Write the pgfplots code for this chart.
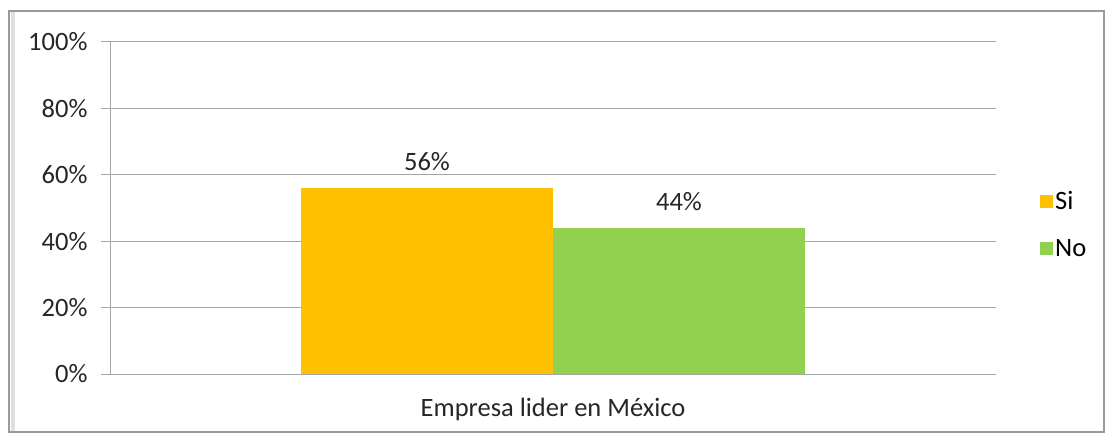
\documentclass[border=0pt]{standalone}
\usepackage{pgfplots}
\pgfplotsset{compat=1.18}
\usepackage{fontspec}
\setmainfont{Carlito}
\definecolor{siC}{HTML}{FFC000}
\definecolor{noC}{HTML}{92D050}
\definecolor{gridC}{HTML}{A6A6A6}
\definecolor{frameC}{HTML}{9A9A9A}
\begin{document}
\begin{tikzpicture}[x=1pt,y=1pt]
\path (0,0) rectangle (1107,434);
\draw[frameC, line width=2.5pt] (9,2) rectangle (1104,423);
\fill[gray!25] (10.5,3) rectangle (15,421.5);
\begin{axis}[
  at={(110pt,60pt)}, anchor=south west,
  scale only axis, width=886pt, height=332pt,
  ybar=0pt, bar width=252pt,
  xmin=-1, xmax=1, ymin=0, ymax=100,
  xtick={0}, xticklabels={Empresa lider en México},
  x tick style={draw=none},
  extra x ticks={-1,1}, extra x tick labels={},
  extra x tick style={tick style={draw=gridC, line width=1pt}, major tick length=8pt},
  ytick={0,20,40,60,80,100},
  yticklabel={\pgfmathprintnumber{\tick}\%},
  /pgf/number format/assume math mode=true,
  tick align=outside, major tick length=9pt,
  y tick style={draw=gridC, line width=1pt},
  ymajorgrids, grid style={draw=gridC, line width=1pt},
  axis x line*=bottom, axis y line*=left,
  axis line style={draw=gridC, line width=1pt, -},
  tick label style={font=\fontsize{26.5}{31}\selectfont, text=black!85},
  yticklabel style={xshift=-10pt},
  xticklabel style={yshift=-12pt},
  nodes near coords={\pgfmathprintnumber{\pgfplotspointmeta}\%},
  nodes near coords style={font=\fontsize{26.5}{31}\selectfont, text=black!85, /pgf/number format/assume math mode=true, yshift=14pt},
  legend style={at={(1.077,0.45)}, anchor=center, draw=none, fill=none,
    font=\fontsize{26.5}{31}\selectfont, row sep=24pt,
    /tikz/every even column/.append style={column sep=6pt}},
  legend cell align=left,
  legend image code/.code={\fill[#1] (0pt,-6.5pt) rectangle (13pt,6.5pt);},
]
\addplot[fill=siC, draw=none] coordinates {(0,56)};
\addplot[fill=noC, draw=none] coordinates {(0,44)};
\legend{Si,No}
\end{axis}
\end{tikzpicture}
\end{document}
